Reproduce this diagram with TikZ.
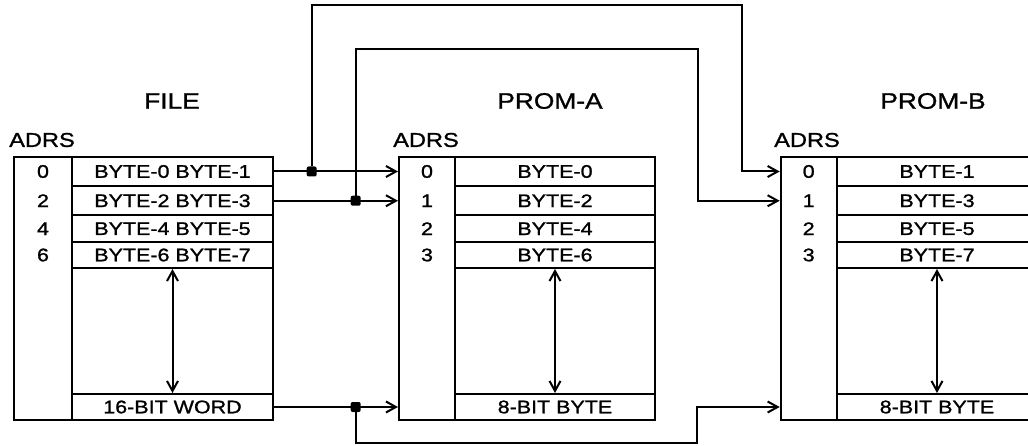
\documentclass[tikz,border=0pt]{standalone}
\usepackage{fontspec}
\newfontfamily\plotfont[FakeStretch=1.18, FakeBold=1.2]{Liberation Sans}
\usetikzlibrary{arrows.meta}

\tikzset{
	box/.style={draw, line width=2pt, inner sep=0pt},
	cell/.style={box, font=\plotfont\fontsize{18.2}{20}\selectfont},
	adrnum/.style={inner sep=0pt, font=\plotfont\fontsize{18.2}{20}\selectfont},
	heading/.style={font=\plotfont\fontsize{22.3}{24}\selectfont},
	adrs/.style={font=\plotfont\fontsize{20}{22}\selectfont},
	wire/.style={line width=2pt, -{Straight Barb[length=10pt,width=11pt]}},
	span/.style={line width=2pt, {Straight Barb[length=10pt,width=11pt]}-{Straight Barb[length=10pt,width=11pt]}},
	joint/.style={fill, rectangle, rounded corners=2pt, minimum size=10pt, inner sep=0pt},
}

\begin{document}
\begin{tikzpicture}[x=1pt, y=-1pt]
	\useasboundingbox (0,0) rectangle (1028,446);
	\clip (0,0) rectangle (1028,446);

	% FILE
	\node[heading] (fileT) at (172,101) {FILE};
	\node[adrs] (fileA) at (42,140) {ADRS};
	\node[box, minimum width=58pt, minimum height=263pt] (fadr) at (43,288.5) {};
	\node[box, minimum width=201pt, minimum height=263pt] (fcol) at (172.5,288.5) {};
	\foreach \i/\y/\h/\a/\txt in {0/171.5/29/0/{BYTE-0 BYTE-1}, 1/200.75/29.5/2/{BYTE-2 BYTE-3}, 2/228.75/26.5/4/{BYTE-4 BYTE-5}, 3/255/26/6/{BYTE-6 BYTE-7}} {
		\node[cell, minimum width=201pt, minimum height=\h] (f\i) at (172.5,\y) {\txt};
		\node[adrnum] (fn\i) at (43,\y) {\a};
	}
	\node[cell, minimum width=201pt, minimum height=26pt] (fw) at (172.5,407) {16-BIT WORD};
	\draw[span] (f3.south) -- (fw.north);

	% PROM-A
	\node[heading] (promAT) at (550,101) {PROM-A};
	\node[adrs] (promAA) at (426,140) {ADRS};
	\node[box, minimum width=56pt, minimum height=263pt] (aadr) at (427,288.5) {};
	\node[box, minimum width=200pt, minimum height=263pt] (acol) at (555,288.5) {};
	\foreach \i/\y/\h/\txt in {0/171.5/29/{BYTE-0}, 1/200.75/29.5/{BYTE-2}, 2/228.75/26.5/{BYTE-4}, 3/255/26/{BYTE-6}} {
		\node[cell, minimum width=200pt, minimum height=\h] (a\i) at (555,\y) {\txt};
		\node[adrnum] (an\i) at (427,\y) {\i};
	}
	\node[cell, minimum width=200pt, minimum height=26pt] (aw) at (555,407) {8-BIT BYTE};
	\draw[span] (a3.south) -- (aw.north);

	% PROM-B
	\node[heading] (promBT) at (933,101) {PROM-B};
	\node[adrs] (promBA) at (807,140) {ADRS};
	\node[box, minimum width=56pt, minimum height=263pt] (badr) at (808.7,288.5) {};
	\node[box, minimum width=200pt, minimum height=263pt] (bcol) at (937,288.5) {};
	\foreach \i/\y/\h/\txt in {0/171.5/29/{BYTE-1}, 1/200.75/29.5/{BYTE-3}, 2/228.75/26.5/{BYTE-5}, 3/255/26/{BYTE-7}} {
		\node[cell, minimum width=200pt, minimum height=\h] (b\i) at (937,\y) {\txt};
		\node[adrnum] (bn\i) at (808.7,\y) {\i};
	}
	\node[cell, minimum width=200pt, minimum height=26pt] (bw) at (937,407) {8-BIT BYTE};
	\draw[span] (b3.south) -- (bw.north);

	% connections
	\node[joint] (j1) at (311.7,171.5) {};
	\node[joint] (j2) at (355.7,200.75) {};
	\node[joint] (j3) at (355.7,407) {};
	\draw[wire] (f0.east) -- (aadr.west |- f0.east);
	\draw[wire] (f1.east) -- (aadr.west |- f1.east);
	\draw[wire] (fw.east) -- (aadr.west |- fw.east);
	\draw[wire] (j1) |- (741.7,5) -- (741.7,171.5) -- (badr.west |- f0.east);
	\draw[wire] (j2) |- (697.7,49) -- (697.7,200.75) -- (badr.west |- f1.east);
	\draw[wire] (j3) |- (697,443) |- (badr.west |- fw.east);
\end{tikzpicture}
\end{document}
